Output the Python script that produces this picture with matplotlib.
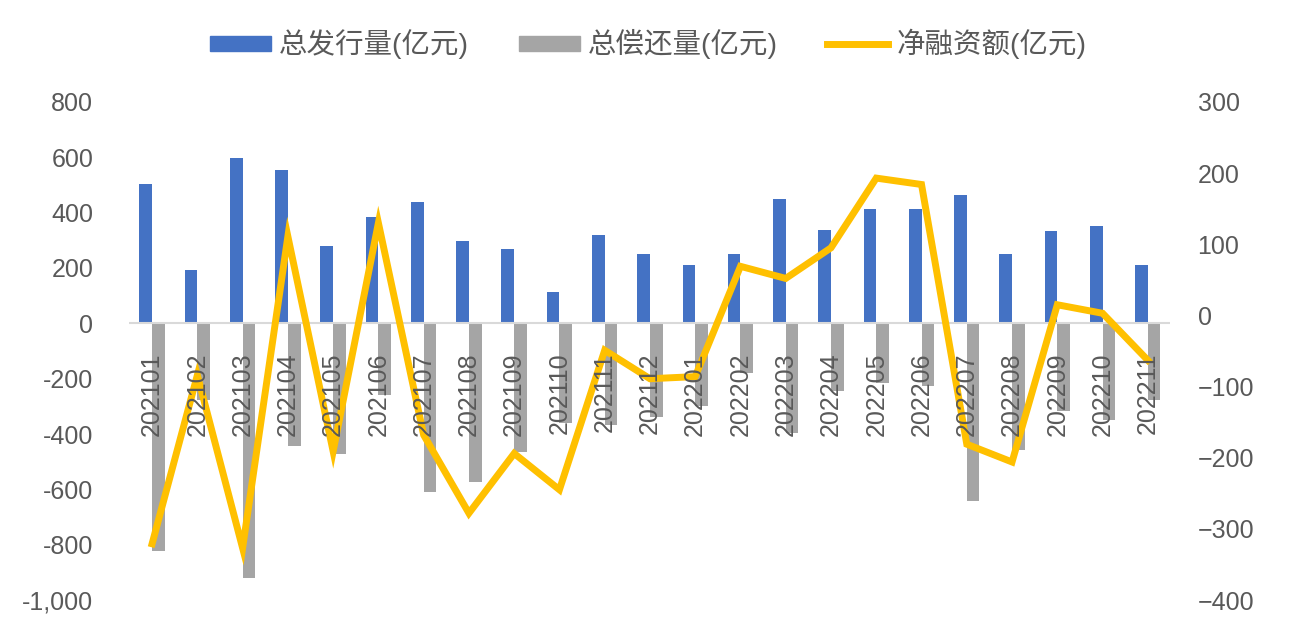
import numpy as np
import matplotlib
matplotlib.use('Agg')
import matplotlib.pyplot as plt
from matplotlib.patches import Patch
from matplotlib.lines import Line2D

plt.rcParams['font.family'] = ['Liberation Sans', 'Noto Sans CJK SC', 'DejaVu Sans']

months = ['202101', '202102', '202103', '202104', '202105', '202106', '202107', '202108',
          '202109', '202110', '202111', '202112', '202201', '202202', '202203', '202204',
          '202205', '202206', '202207', '202208', '202209', '202210', '202211']
issue = [502, 194, 596, 553, 281, 386, 440, 296, 270, 115, 321, 249,
         212, 252, 451, 339, 412, 412, 462, 252, 332, 350, 212]
repay = [-823, -276, -919, -443, -471, -258, -609, -573, -464, -360, -367, -338,
         -298, -181, -398, -244, -217, -226, -642, -457, -316, -349, -276]
net = [-321, -84, -327, 111, -191, 130, -168, -278, -194, -245, -49, -89,
       -86, 69, 52, 95, 193, 184, -181, -206, 15, 3, -63]

left_ticks = [-1000, -800, -600, -400, -200, 0, 200, 400, 600, 800]
right_ticks = [-400, -300, -200, -100, 0, 100, 200, 300]

blue = '#4472C4'
grey = '#A5A5A5'
gold = '#FFC000'
txt = '#595959'
fs = 18
lfs = 20.5

fig = plt.figure(figsize=(13.05, 6.31), dpi=100)
ax = fig.add_axes([0.0992, 0.0491, 0.7977, 0.7893])

x = np.arange(len(months))
w = 0.28
ax.bar(x - w / 2, issue, width=w, color=blue, zorder=2)
ax.bar(x + w / 2, repay, width=w, color=grey, zorder=2)
ax.axhline(0, color='#D9D9D9', lw=1.5, zorder=3)

ax.set_xlim(-0.5, len(months) - 0.5)
ax.set_ylim(-1000, 800)
ax.set_yticks(left_ticks)
ax.set_yticklabels(['{:,}'.format(v) for v in left_ticks])
ax.tick_params(axis='y', length=0, pad=26, labelsize=fs, labelcolor=txt)
ax.tick_params(axis='x', length=0, labelbottom=False)
for s in ax.spines.values():
    s.set_visible(False)

ax2 = ax.twinx()
ax2.plot(x, net, color=gold, lw=5, solid_joinstyle='miter', zorder=4)
ax2.set_ylim(-400, 300)
ax2.set_yticks(right_ticks)
ax2.tick_params(axis='y', length=0, pad=19.5, labelsize=fs, labelcolor=txt)

# month labels hang under the zero line of the left axis, drawn over everything
ax2.xaxis.set_visible(True)
ax2.spines['bottom'].set_position(('axes', 1000 / 1800))
ax2.set_xticks(x)
ax2.set_xticklabels(months, rotation=90)
ax2.tick_params(axis='x', length=0, pad=21, labelsize=fs, labelcolor=txt, labelbottom=True)
ax2.xaxis.set_zorder(5)
for s in ax2.spines.values():
    s.set_visible(False)

handles = [Patch(color=blue), Patch(color=grey), Line2D([], [], color=gold, lw=5)]
labels = ['总发行量(亿元)', '总偿还量(亿元)', '净融资额(亿元)']
fig.legend(handles, labels, loc='center', bbox_to_anchor=(0.4966, 0.93), ncol=3,
           frameon=False, fontsize=lfs, labelcolor=txt, handlelength=2.14,
           handleheight=0.45, handletextpad=0.28, columnspacing=1.75)

fig.savefig('out.png', dpi=100)
